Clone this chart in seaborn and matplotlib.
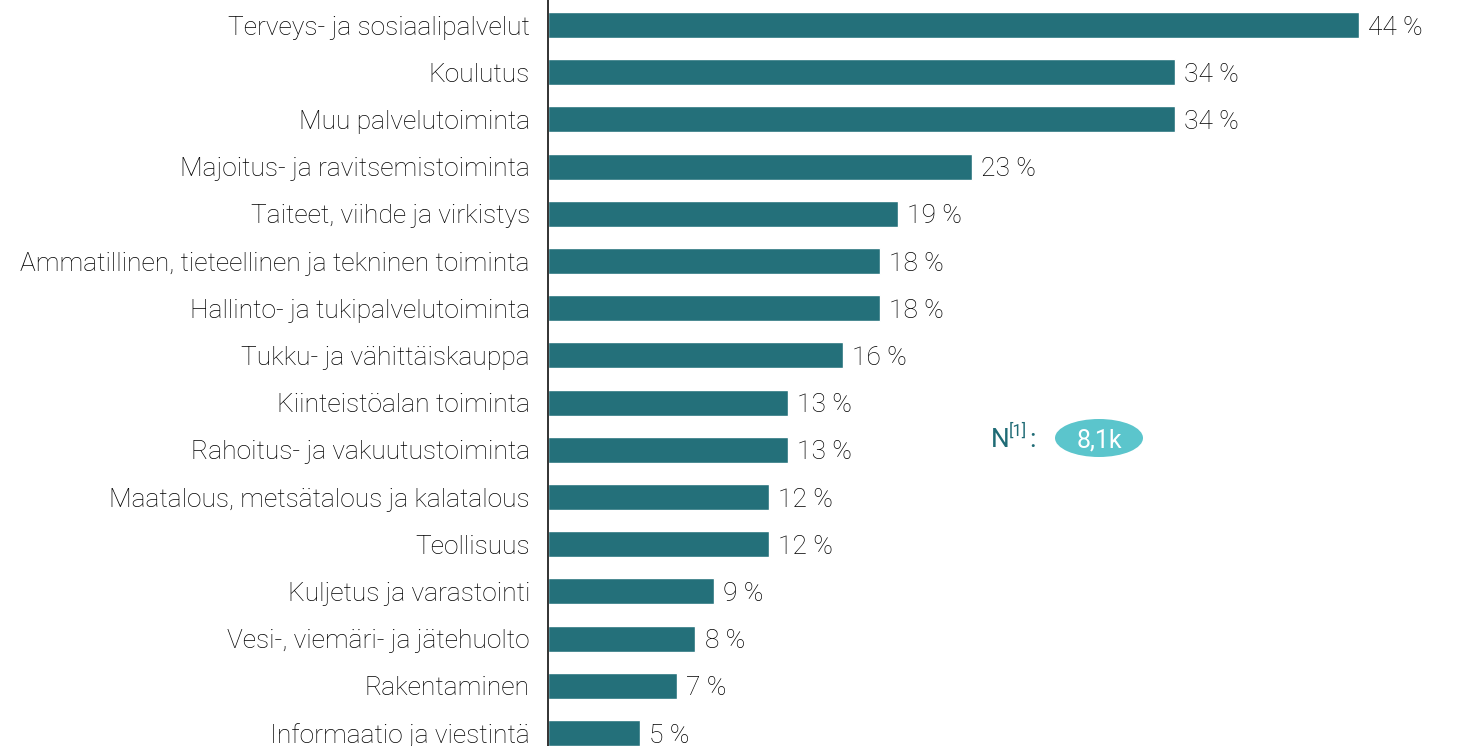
import pandas as pd
import seaborn as sns
import matplotlib.pyplot as plt
from matplotlib.patches import Ellipse

# data (top to bottom)
categories = [
    "Terveys- ja sosiaalipalvelut",
    "Koulutus",
    "Muu palvelutoiminta",
    "Majoitus- ja ravitsemistoiminta",
    "Taiteet, viihde ja virkistys",
    "Ammatillinen, tieteellinen ja tekninen toiminta",
    "Hallinto- ja tukipalvelutoiminta",
    "Tukku- ja vähittäiskauppa",
    "Kiinteistöalan toiminta",
    "Rahoitus- ja vakuutustoiminta",
    "Maatalous, metsätalous ja kalatalous",
    "Teollisuus",
    "Kuljetus ja varastointi",
    "Vesi-, viemäri- ja jätehuolto",
    "Rakentaminen",
    "Informaatio ja viestintä",
]
values = [44, 34, 34, 23, 19, 18, 18, 16, 13, 13, 12, 12, 9, 8, 7, 5]
n_label = "8,1k"

df = pd.DataFrame({"toimiala": categories, "osuus": values})

sns.set_theme(style="white")
plt.rcParams["font.family"] = ["Roboto", "DejaVu Sans"]

W, H = 1457, 746
fig = plt.figure(figsize=(W / 100, H / 100), dpi=100)
ax = fig.add_axes([548 / W, 0, 884.7 / W, 1])

bar_color = "#24707a"
sns.barplot(data=df, x="osuus", y="toimiala", color=bar_color, width=0.55,
            saturation=1, ax=ax)

ax.set_xlim(0, 48)
ax.set_ylim(15.275, -0.53)
ax.set_xlabel("")
ax.set_ylabel("")
ax.set_xticks([])
for s in ["top", "right", "bottom"]:
    ax.spines[s].set_visible(False)
ax.spines["left"].set_color("#222222")
ax.spines["left"].set_linewidth(1.3)
ax.tick_params(axis="y", length=0, pad=13, labelsize=19, labelcolor="#000000")
for lab in ax.get_yticklabels():
    lab.set_fontweight("light")
    lab.set_va("center_baseline")

# arvot palkkien perään
for i, v in enumerate(values):
    ax.text(v + 0.5, i, f"{v} %", va="center_baseline", ha="left", fontsize=19,
            fontweight="light", color="#000000")

# N-merkintä
ty = 1 - 438 / H
nc = "#1f6b75"
fig.text(991 / W, ty, "N", fontsize=19, color=nc, va="center_baseline", ha="left")
fig.text(1009 / W, ty + 0.012, "[1]", fontsize=12, color=nc, va="center_baseline",
         ha="left")
fig.text(1029 / W, ty, ":", fontsize=19, color=nc, va="center_baseline", ha="left")
ell = Ellipse((1099 / W, ty), 88 / W, 38 / H, transform=fig.transFigure,
              facecolor="#5bc5cc", edgecolor="none")
fig.patches.append(ell)
fig.text(1099 / W, ty, n_label, fontsize=18, color="white", va="center_baseline",
         ha="center")

fig.savefig("out.png", dpi=100)
